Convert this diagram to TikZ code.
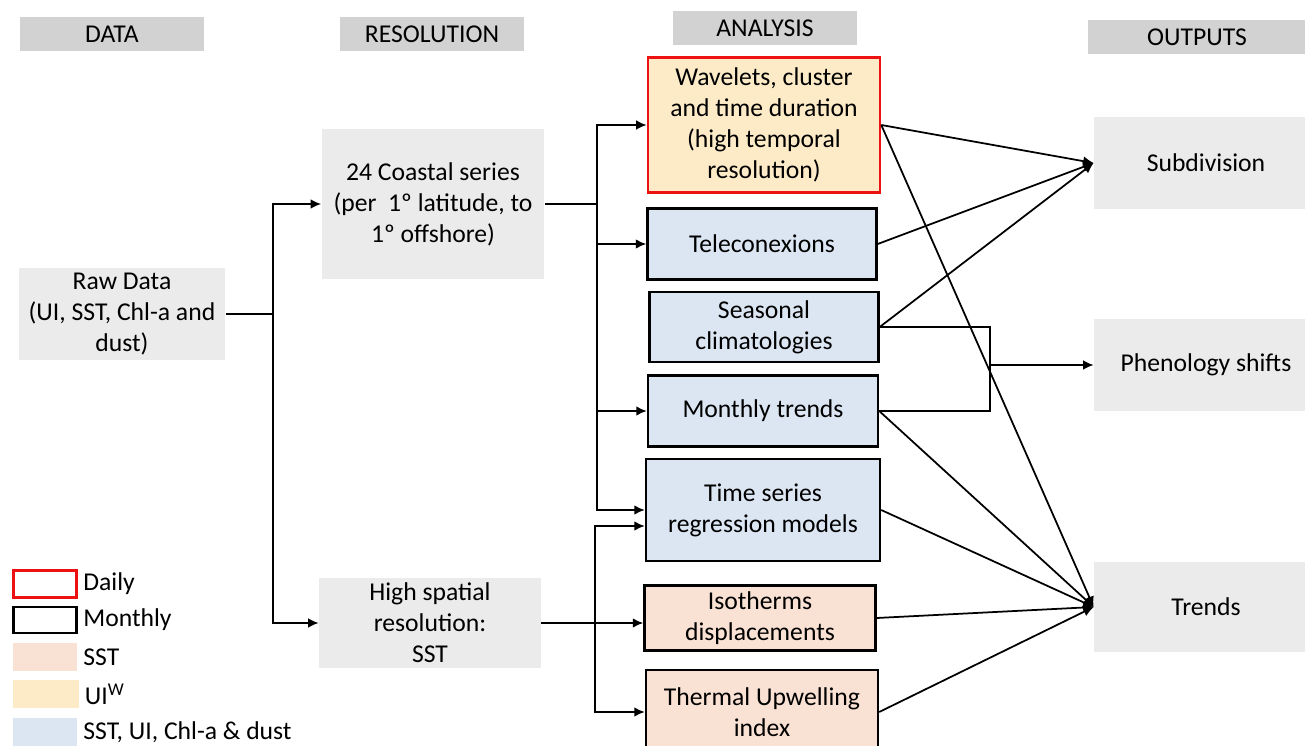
\documentclass[tikz,border=0pt]{standalone}
\usepackage{fontspec}
\setmainfont{Carlito}
\usetikzlibrary{arrows.meta,positioning,calc}

\definecolor{headgray}{HTML}{D2D2D2}
\definecolor{boxgray}{HTML}{EBEBEB}
\definecolor{sstfill}{HTML}{F9E1D3}
\definecolor{uifill}{HTML}{FDEBC8}
\definecolor{allfill}{HTML}{DCE6F2}
\definecolor{dailyred}{HTML}{EE1111}

\begin{document}
\begin{tikzpicture}[x=0.02cm,y=-0.02cm,>={Latex[length=6pt,width=5.5pt]},
    every node/.style={font=\fontsize{14.6}{17.6}\selectfont,align=center,inner sep=2pt},
    header/.style={fill=headgray,minimum width=3.7cm,minimum height=0.69cm},
    graybox/.style={fill=boxgray},
    monthly/.style={draw,line width=1.4pt},
    daily/.style={draw=dailyred,line width=1.5pt},
    conn/.style={line width=1pt}]
    \useasboundingbox (0,0) rectangle (1305,746);

    % headers
    \node[header] (hdata) at (112,34) {DATA};
    \node[header] (hres) at (432,34) {RESOLUTION};
    \node[header] (hana) at (765,28) {ANALYSIS};
    \node[header,minimum width=4.38cm] (hout) at (1197,37) {OUTPUTS};

    % data and resolution
    \node[graybox,minimum width=4.14cm,minimum height=1.86cm] (raw) at (122,314) {Raw Data\\(UI, SST, Chl-a and\\dust)};
    \node[graybox,minimum width=4.46cm,minimum height=3.0cm] (coast) at (433,204) {24 Coastal series\\(per\ \ 1º latitude, to\\1º offshore)};
    \node[graybox,minimum width=4.44cm,minimum height=1.82cm] (hires) at (430,623) {High spatial\\resolution:\\SST};

    % analysis
    \node[daily,fill=uifill,minimum width=4.64cm,minimum height=2.7cm] (wav) at (764,125) {Wavelets, cluster\\and time duration\\(high temporal\\resolution)};
    \node[monthly,fill=allfill,minimum width=4.58cm,minimum height=1.42cm] (tele) at (762,244) {Teleconexions};
    \node[monthly,fill=allfill,minimum width=4.58cm,minimum height=1.4cm] (seas) at (764,327) {Seasonal\\climatologies};
    \node[monthly,fill=allfill,minimum width=4.6cm,minimum height=1.42cm] (mon) at (763,411) {Monthly trends};
    \node[monthly,fill=allfill,minimum width=4.68cm,minimum height=2.04cm] (ts) at (763,510) {Time series\\regression models};
    \node[monthly,fill=sstfill,minimum width=4.62cm,minimum height=1.3cm] (iso) at (760,618) {Isotherms\\displacements};
    \node[monthly,fill=sstfill,minimum width=4.64cm,minimum height=1.68cm] (therm) at (762,712) {Thermal Upwelling\\index};

    % outputs
    \node[graybox,minimum width=4.48cm,minimum height=1.84cm] (sub) at (1206,163) {Subdivision};
    \node[graybox,minimum width=4.48cm,minimum height=1.84cm] (phen) at (1206,365) {Phenology shifts};
    \node[graybox,minimum width=4.48cm,minimum height=1.82cm] (trend) at (1206,607) {Trends};

    % legend
    \node[daily,minimum width=1.26cm,minimum height=0.54cm] (ldaily) at (45,584) {};
    \node[monthly,minimum width=1.26cm,minimum height=0.52cm] (lmon) at (45,620) {};
    \node[fill=sstfill,minimum width=1.3cm,minimum height=0.58cm] (lsst) at (45,657) {};
    \node[fill=uifill,minimum width=1.32cm,minimum height=0.56cm] (lui) at (46,694) {};
    \node[fill=allfill,minimum width=1.3cm,minimum height=0.56cm] (lall) at (45,732) {};
    \node[right=1pt of ldaily] (tdaily) {Daily};
    \node[right=1pt of lmon] (tmon) {Monthly};
    \node[right=1pt of lsst] (tsst) {SST};
    \node[right=1pt of lui] (tui) {UI\textsuperscript{W}};
    \node[right=1pt of lall] (tall) {SST, UI, Chl-a \& dust};

    % data -> resolution
    \coordinate (j1) at (273,314);
    \draw[conn] (raw.east) -- (j1);
    \draw[conn,->] (j1) |- (coast.west);
    \draw[conn,->] (j1) |- (hires.west);

    % resolution -> analysis
    \coordinate (j2) at (597,204);
    \draw[conn] (coast.east) -- (j2);
    \draw[conn,->] (j2) |- (wav.west);
    \draw[conn,->] (j2) |- (tele.west);
    \draw[conn,->] (j2) |- (mon.west);
    \draw[conn,->] (j2) |- (ts.west);
    \coordinate (j3) at (595,623);
    \draw[conn,->] (hires.east) -- (hires.east -| iso.west);
    \draw[conn,->] (j3) |- ($(ts.west)+(0,16)$);
    \draw[conn,->] (j3) |- (therm.west);

    % analysis -> outputs
    \draw[conn,->] (wav.east) -- (sub.west);
    \draw[conn,->] (wav.east) -- (trend.west);
    \draw[conn,->] (tele.east) -- (sub.west);
    \draw[conn,->] (seas.east) -- (sub.west);
    \coordinate (j4) at (990,365);
    \draw[conn] (seas.east) -| (j4) |- (mon.east);
    \draw[conn,->] (j4) -- (phen.west);
    \draw[conn,->] (mon.east) -- (trend.west);
    \draw[conn,->] (ts.east) -- (trend.west);
    \draw[conn,->] (iso.east) -- (trend.west);
    \draw[conn,->] (therm.east) -- (trend.west);
\end{tikzpicture}
\end{document}
